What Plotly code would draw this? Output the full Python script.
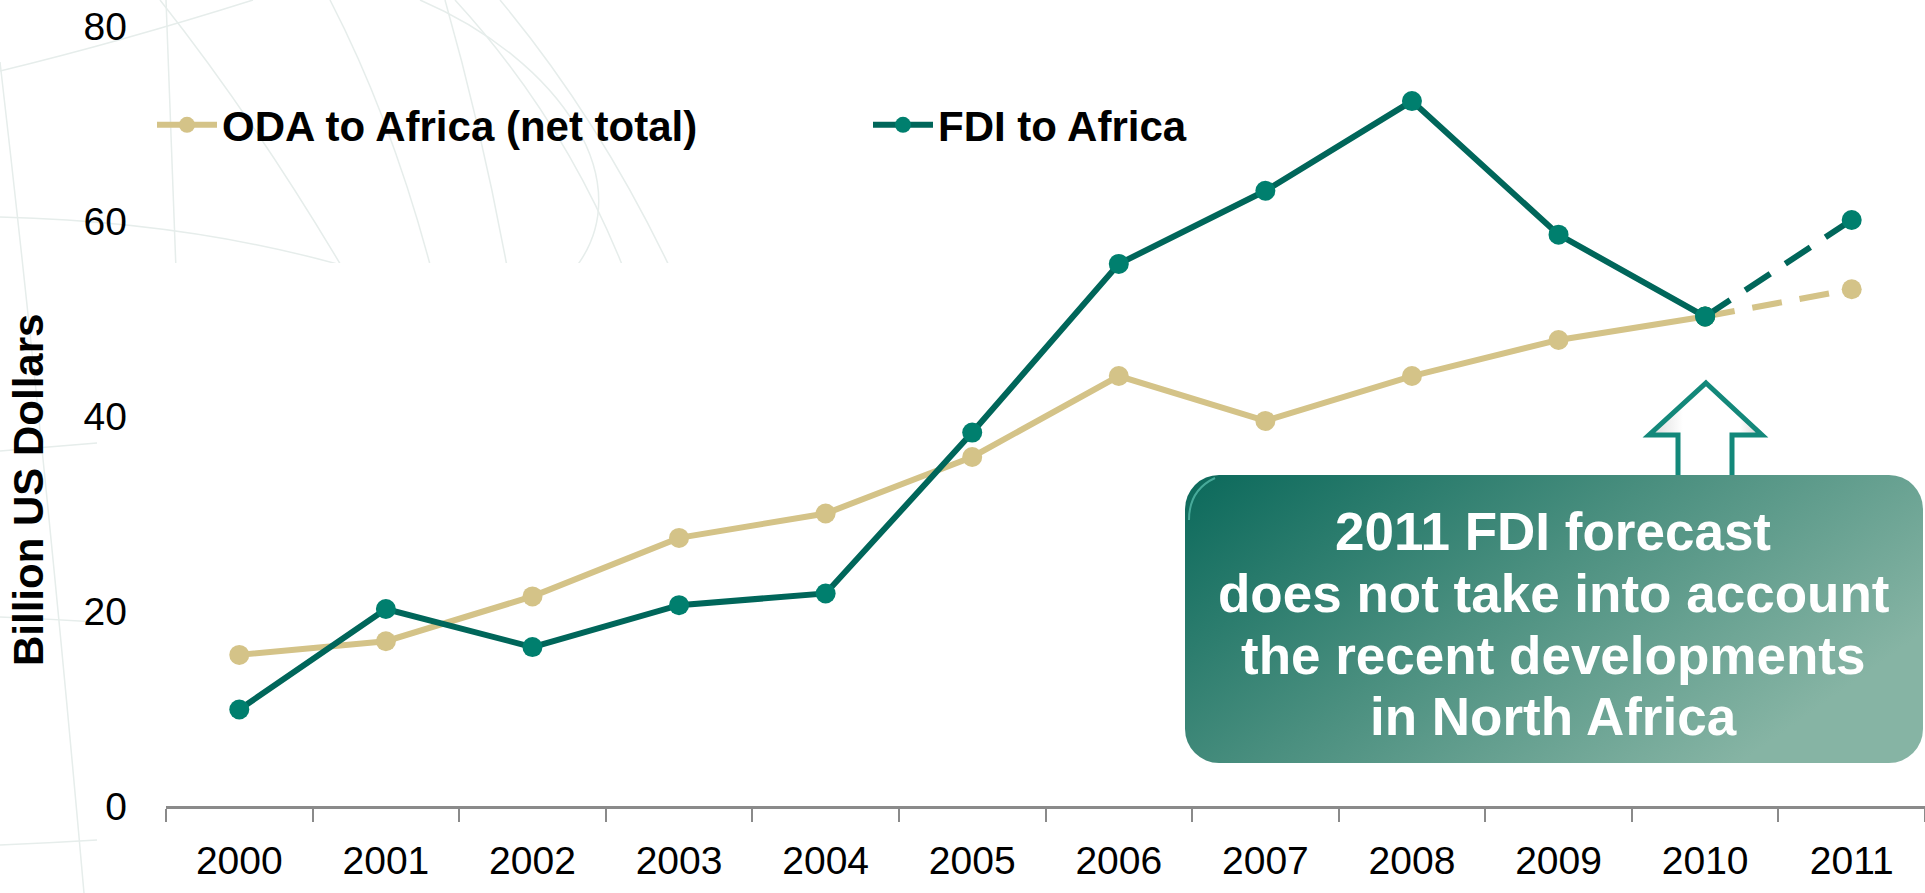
import base64
import plotly.graph_objects as go

# ---- data -------------------------------------------------------------
years = ["2000", "2001", "2002", "2003", "2004", "2005",
         "2006", "2007", "2008", "2009", "2010", "2011"]
oda_to_africa = [15.5, 16.9, 21.5, 27.5, 30.0, 35.8, 44.1, 39.5, 44.1, 47.8, 50.2, 53.0]
fdi_to_africa = [9.9, 20.2, 16.3, 20.6, 21.8, 38.3, 55.6, 63.1, 72.3, 58.6, 50.2, 60.1]
y_ticks = [0, 20, 40, 60, 80]
last_actual = years.index("2010")   # 2011 is a forecast
callout_lines = ["2011 FDI forecast", "does not take into account",
                 "the recent developments", "in North Africa"]

ODA_COLOR = "#D4C388"
FDI_LINE = "#00665A"
FDI_MARKER = "#007F6E"

# ---- figure geometry (pixels) -----------------------------------------
W, H = 1925, 893
ML, MR, MT, MB = 166, 0, 26, 87
PW, PH = W - ML - MR, H - MT - MB


def px_to_paper_x(px):
    return (px - ML) / PW


def px_to_paper_y(py):
    return (H - MB - py) / PH


def svg_uri(svg):
    return "data:image/svg+xml;base64," + base64.b64encode(svg.encode()).decode()


# faint globe-like line art in the top-left corner
background_svg = f"""<svg xmlns="http://www.w3.org/2000/svg" width="{W}" height="{H}" viewBox="0 0 {W} {H}" preserveAspectRatio="none">
<defs><clipPath id="c"><rect x="0" y="0" width="672" height="263"/><rect x="0" y="0" width="97" height="{H}"/></clipPath></defs>
<g clip-path="url(#c)" fill="none" stroke="#e6edeb" stroke-width="1.5">
<path d="M0,71 Q120,42 253,0"/>
<path d="M0,217 Q200,222 365,272"/>
<path d="M166,0 Q171,130 176,270"/>
<path d="M0,62 Q45,450 84,893"/>
<path d="M160,0 Q255,120 345,272"/>
<path d="M330,0 Q392,120 432,272"/>
<path d="M420,0 C560,60 645,185 572,272"/>
<path d="M500,0 Q600,120 672,272"/>
<path d="M445,0 Q482,130 508,272"/>
<path d="M455,0 Q565,120 625,272"/>
<path d="M0,451 Q50,447 97,443"/>
<path d="M0,617 Q50,619 97,622"/>
<path d="M0,845 Q50,843 97,840"/>
</g></svg>"""

# rounded call-out panel and the arrow pointing at the forecast
callout_svg = f"""<svg xmlns="http://www.w3.org/2000/svg" width="{W}" height="{H}" viewBox="0 0 {W} {H}" preserveAspectRatio="none">
<defs>
<linearGradient id="g" x1="0" y1="0" x2="1" y2="0.55">
<stop offset="0" stop-color="#0b695b"/>
<stop offset="0.5" stop-color="#4a8f7f"/>
<stop offset="1" stop-color="#86b4a4"/>
</linearGradient>
<linearGradient id="a" x1="0" y1="0" x2="1" y2="0">
<stop offset="0" stop-color="#d9d9d9"/>
<stop offset="0.3" stop-color="#ffffff"/>
<stop offset="0.8" stop-color="#ffffff"/>
<stop offset="1" stop-color="#d0d0d0"/>
</linearGradient>
</defs>
<polygon points="1706,383 1762,435 1732,435 1732,478 1678,478 1678,435 1649,435" fill="url(#a)" stroke="#13887a" stroke-width="5" stroke-linejoin="miter"/>
<rect x="1185" y="475" width="738" height="288" rx="34" ry="34" fill="url(#g)"/>
<path d="M1189,520 Q1189,490 1215,478" fill="none" stroke="#5fc4b4" stroke-width="2" opacity="0.7"/>
</svg>"""

fig = go.Figure()

# ODA: actual values then the dashed 2011 forecast
fig.add_trace(go.Scatter(
    x=years[:last_actual + 1], y=oda_to_africa[:last_actual + 1],
    name="ODA to Africa (net total)", mode="lines+markers",
    line=dict(color=ODA_COLOR, width=6),
    marker=dict(color=ODA_COLOR, size=20),
))
fig.add_trace(go.Scatter(
    x=years[last_actual:], y=oda_to_africa[last_actual:],
    mode="lines+markers", showlegend=False,
    line=dict(color=ODA_COLOR, width=6, dash="30px,18px"),
    marker=dict(color=ODA_COLOR, size=20),
))

# FDI: actual values then the dashed 2011 forecast
fig.add_trace(go.Scatter(
    x=years[:last_actual + 1], y=fdi_to_africa[:last_actual + 1],
    name="FDI to Africa", mode="lines+markers",
    line=dict(color=FDI_LINE, width=6),
    marker=dict(color=FDI_MARKER, size=20),
))
fig.add_trace(go.Scatter(
    x=years[last_actual:], y=fdi_to_africa[last_actual:],
    mode="lines+markers", showlegend=False,
    line=dict(color=FDI_LINE, width=6, dash="30px,18px"),
    marker=dict(color=FDI_MARKER, size=20),
))

full_page = dict(
    xref="paper", yref="paper",
    x=px_to_paper_x(0), y=px_to_paper_y(0),
    sizex=W / PW, sizey=H / PH,
    xanchor="left", yanchor="top", sizing="stretch",
)

annotations = [
    dict(
        text="Billion US Dollars", textangle=-90,
        xref="paper", yref="paper",
        x=px_to_paper_x(28), y=px_to_paper_y(490),
        xanchor="center", yanchor="middle", showarrow=False,
        font=dict(size=42, color="black", weight="bold"),
    )
]
# call-out text, one line per annotation to keep the tight line spacing
line_gap, first_line_y = 61.8, 531.5
for i, line in enumerate(callout_lines):
    annotations.append(dict(
        text=line, xref="paper", yref="paper",
        x=px_to_paper_x(1553), y=px_to_paper_y(first_line_y + i * line_gap),
        xanchor="center", yanchor="middle", showarrow=False,
        font=dict(size=53, color="white", weight="bold"),
    ))

fig.update_layout(
    width=W, height=H,
    margin=dict(l=ML, r=MR, t=MT, b=MB, autoexpand=False),
    paper_bgcolor="white", plot_bgcolor="rgba(0,0,0,0)",
    font=dict(family="Liberation Sans, Arial, sans-serif", color="black"),
    images=[
        dict(source=svg_uri(background_svg), layer="below", **full_page),
        dict(source=svg_uri(callout_svg), layer="above", **full_page),
    ],
    xaxis=dict(
        type="category", categoryorder="array", categoryarray=years,
        range=[-0.5, len(years) - 0.5],
        showline=True, linecolor="#8a8a8a", linewidth=3,
        ticks="outside", tickson="boundaries", ticklen=13,
        tickcolor="#8a8a8a", tickwidth=1.5,
        tickfont=dict(size=39, color="black"),
        ticklabelstandoff=18,
        showgrid=False, zeroline=False,
    ),
    yaxis=dict(
        range=[0, 80], tickvals=y_ticks,
        showline=False, ticks="", showgrid=False, zeroline=False,
        tickfont=dict(size=39, color="black"),
        ticklabelstandoff=38,
    ),
    legend=dict(
        orientation="h", xref="container", yref="container",
        x=152 / W, y=1 - 125 / H, xanchor="left", yanchor="middle",
        font=dict(size=42, color="black", weight="bold"),
        itemwidth=60, entrywidth=641, entrywidthmode="pixels",
        bgcolor="rgba(0,0,0,0)", borderwidth=0,
    ),
    annotations=annotations,
)

fig.write_html("out.html")
